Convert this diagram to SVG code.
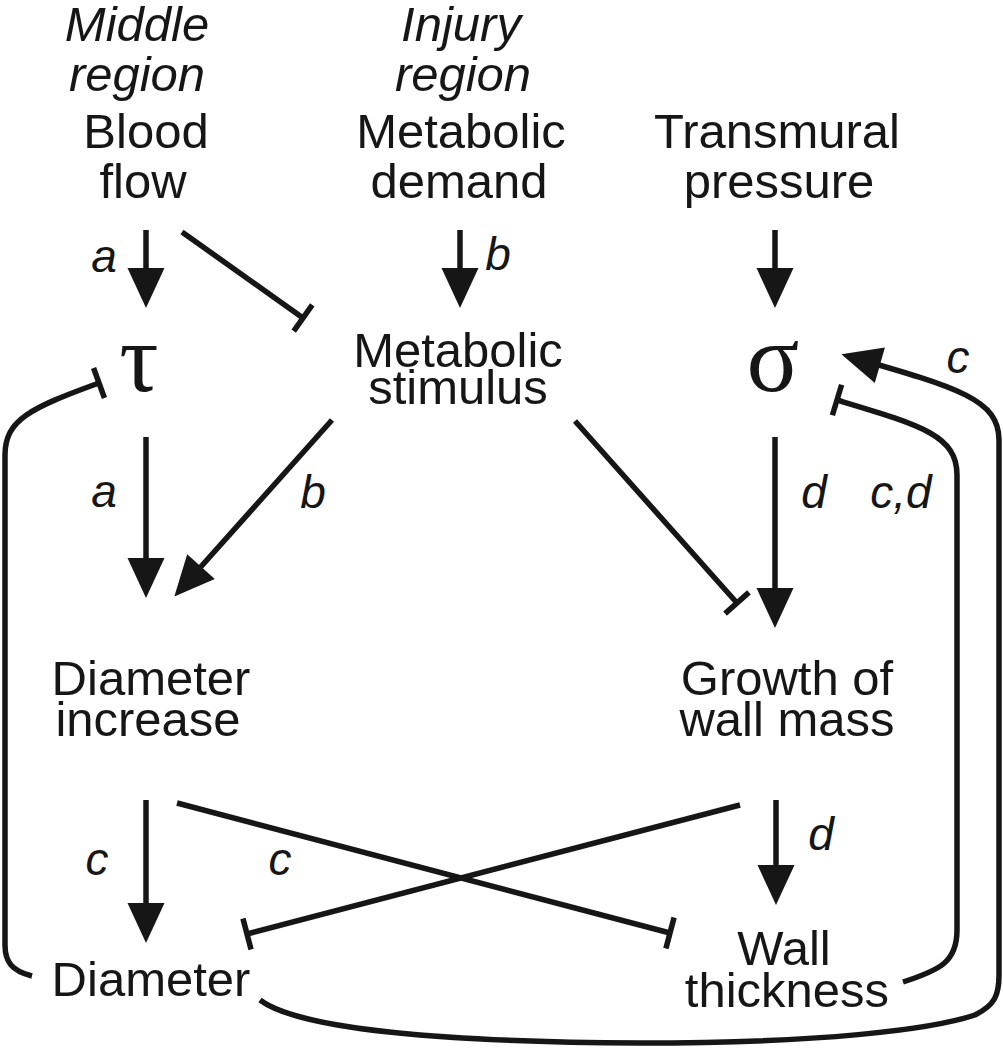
<svg xmlns="http://www.w3.org/2000/svg" width="1003" height="1050" viewBox="0 0 1003 1050">
<style>
text{font-family:"Liberation Sans",Arial,sans-serif;font-size:49px;fill:#161616;text-anchor:middle}
.it{font-style:italic}
.lb{font-style:italic;font-size:46px}
.gk{font-family:"Liberation Serif","Times New Roman",serif;font-size:98px}
.c{fill:none;stroke:#161616;stroke-width:5.5}
.a{marker-end:url(#arr)}
.t{marker-end:url(#bar)}
</style>
<defs>
<marker id="arr" markerUnits="userSpaceOnUse" markerWidth="40" markerHeight="38" viewBox="0 -19 40 38" refX="30" refY="0" orient="auto" overflow="visible"><path d="M0,-18.5 L40,0 L0,18.5 z" fill="#161616"/></marker>
<marker id="bar" markerUnits="userSpaceOnUse" markerWidth="10" markerHeight="36" viewBox="-5 -18 10 36" refX="0" refY="0" orient="auto" overflow="visible"><path d="M0,-16 L0,16" stroke="#161616" stroke-width="5.5"/></marker>
</defs>
<rect width="1003" height="1050" fill="#fff"/>
<g id="blood-flow"><text class="it" x="137" y="41">Middle</text><text class="it" x="137" y="91">region</text><text x="146" y="148">Blood</text><text x="143" y="198">flow</text></g>
<g id="metabolic-demand"><text class="it" x="461" y="41">Injury</text><text class="it" x="463" y="91">region</text><text x="461" y="148">Metabolic</text><text x="459" y="198">demand</text></g>
<g id="transmural-pressure"><text x="777" y="148">Transmural</text><text x="779" y="198">pressure</text></g>
<g id="tau"><text class="gk" x="139" y="391">τ</text></g>
<g id="metabolic-stimulus"><text x="458" y="367">Metabolic</text><text x="458" y="404">stimulus</text></g>
<g id="sigma"><text class="gk" x="773" y="391">σ</text></g>
<g id="diameter-increase"><text x="151" y="695">Diameter</text><text x="148" y="736">increase</text></g>
<g id="growth-wall-mass"><text x="787" y="695">Growth of</text><text x="787" y="736">wall mass</text></g>
<g id="diameter"><text x="151" y="996">Diameter</text></g>
<g id="wall-thickness"><text x="784" y="965">Wall</text><text x="787" y="1007">thickness</text></g>
<g id="connectors">
<path class="c a" d="M146,230 L146,298"/>
<path class="c t" d="M182,232 L303,318"/>
<path class="c a" d="M460,230 L460,298"/>
<path class="c a" d="M775,230 L775,298"/>
<path class="c a" d="M146,437 L146,588"/>
<path class="c a" d="M332,420 L181,589"/>
<path class="c t" d="M575,421 L737,603"/>
<path class="c a" d="M775,437 L775,618"/>
<path class="c a" d="M146,800 L146,933"/>
<path class="c t" d="M177,803 L670,933"/>
<path class="c t" d="M740,805 L247,934"/>
<path class="c a" d="M776,800 L776,895"/>
<path class="c t" d="M32,976 C12,971 5,962 5,945 L5,455 C5,420 30,408 99,383"/>
<path class="c t" d="M903,982 C940,970 957,962 957,930 L957,475 C957,435 920,425 837,400"/>
<path class="c a" d="M260,1000 C300,1030 450,1042 640,1043 C820,1043 930,1030 975,1015 C995,1005 999,995 999,975 L999,440 C999,400 960,388 851,357"/>
</g>
<g id="labels">
<text class="lb" x="104" y="272">a</text>
<text class="lb" x="498" y="270">b</text>
<text class="lb" x="104" y="507">a</text>
<text class="lb" x="313" y="508">b</text>
<text class="lb" x="814" y="508">d</text>
<text class="lb" x="901" y="508">c,d</text>
<text class="lb" x="958" y="373">c</text>
<text class="lb" x="97" y="875">c</text>
<text class="lb" x="280" y="875">c</text>
<text class="lb" x="821" y="850">d</text>
</g>
</svg>
